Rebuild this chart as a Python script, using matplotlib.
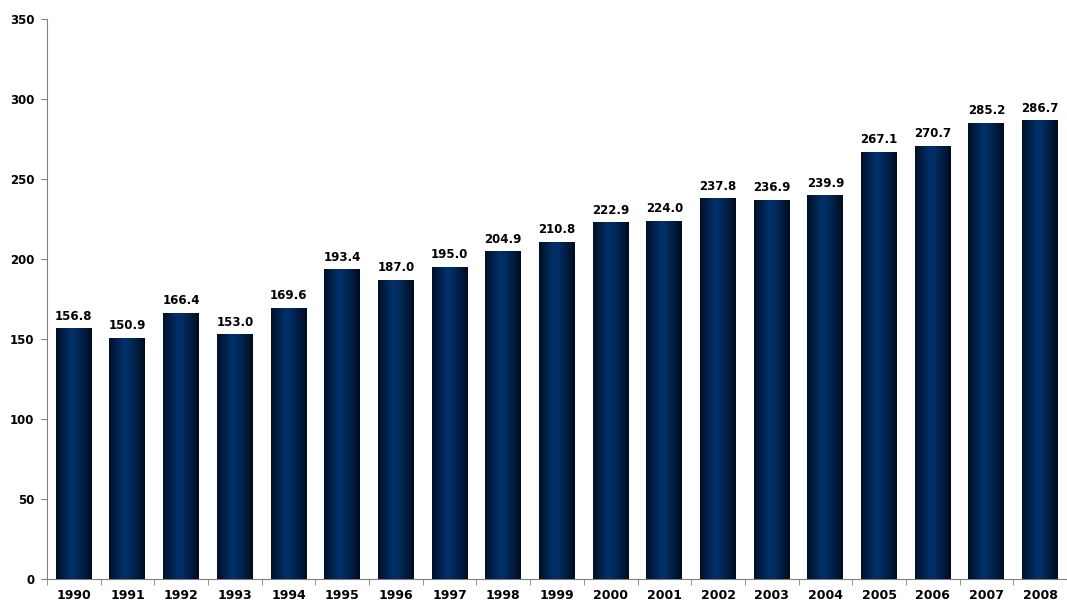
import numpy as np
import matplotlib
matplotlib.use("Agg")
import matplotlib.pyplot as plt
from matplotlib.colors import LinearSegmentedColormap

# ---- Data ----
years = [str(y) for y in range(1990, 2009)]
values = [156.8, 150.9, 166.4, 153.0, 169.6, 193.4, 187.0, 195.0, 204.9, 210.8,
          222.9, 224.0, 237.8, 236.9, 239.9, 267.1, 270.7, 285.2, 286.7]

plt.rcParams['font.family'] = ['DejaVu Sans']

fig = plt.figure(figsize=(10.67, 6.01), dpi=100)
ax = fig.add_axes([0.044, 0.0366, 0.956, 0.932])

x = np.arange(len(years))
bars = ax.bar(x, values, width=0.67, color='#002a5a', zorder=2)

# horizontal shading: dark edges, lighter navy just left of centre
shade = LinearSegmentedColormap.from_list(
    "navy", [(0.0, '#000f26'), (0.42, '#00316a'), (0.55, '#002d62'), (1.0, '#000c20')])
grad = np.linspace(0, 1, 256).reshape(1, -1)
for b in bars:
    bx, by = b.get_x(), b.get_y()
    im = ax.imshow(grad, cmap=shade, aspect='auto', zorder=3,
                   extent=[bx, bx + b.get_width(), by, by + b.get_height()])
    im.set_clip_path(b)

for xi, v in zip(x, values):
    ax.annotate(f"{v:.1f}", (xi, v), xytext=(0, 4), textcoords="offset points",
                ha='center', va='bottom', fontsize=8.5, fontweight='bold')

ax.set_xlim(-0.5, len(years) - 0.5)
ax.set_ylim(0, 350)
ax.set_yticks(range(0, 351, 50))
ax.set_yticklabels([str(t) for t in range(0, 351, 50)], fontsize=8.5, fontweight='bold')

# category labels centred, tick marks between categories
ax.set_xticks(x)
ax.set_xticklabels(years, fontsize=9, fontweight='bold')
ax.tick_params(axis='x', which='major', length=0, pad=7)
ax.set_xticks(np.arange(-0.5, len(years), 1), minor=True)
ax.tick_params(axis='x', which='minor', length=4, color='#808080', direction='out')
ax.tick_params(axis='y', length=4, color='#808080', pad=5)

for side in ['top', 'right']:
    ax.spines[side].set_visible(False)
for side in ['left', 'bottom']:
    ax.spines[side].set_color('#808080')

fig.savefig("out.png", dpi=100)
